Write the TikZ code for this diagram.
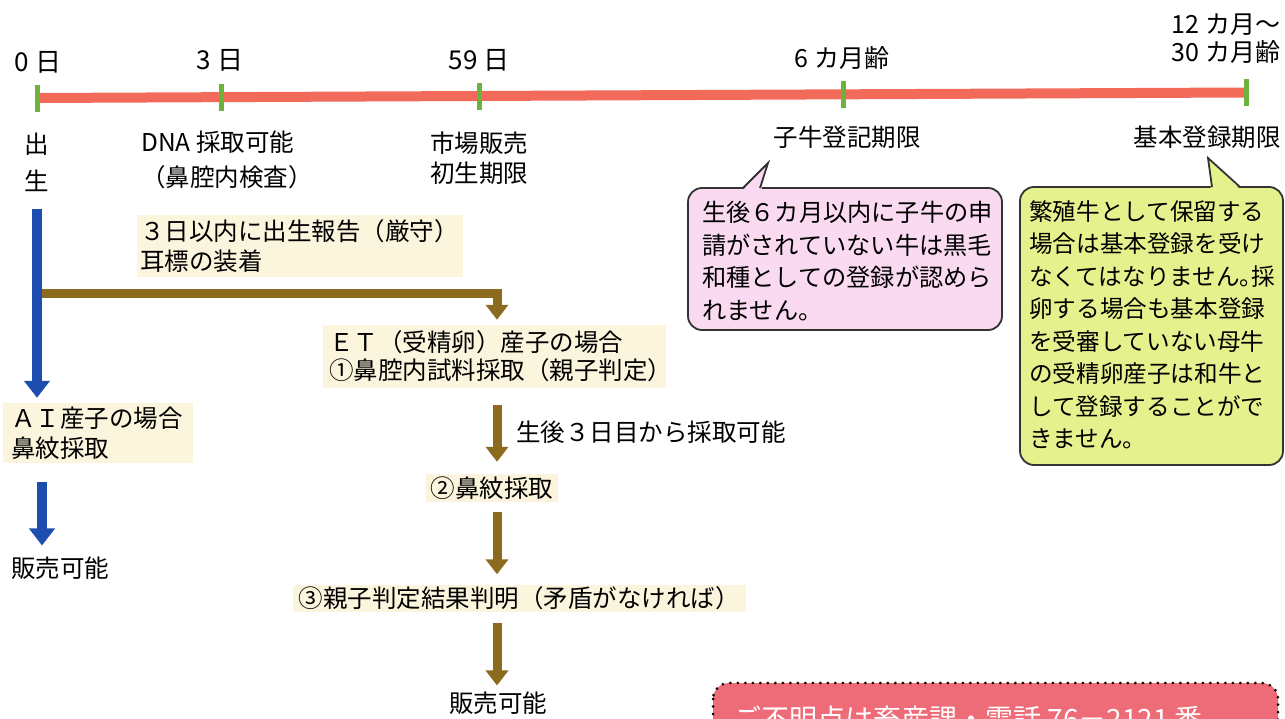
\documentclass[tikz,border=0pt]{standalone}
\usepackage{fontspec}
\setmainfont{Noto Sans CJK JP}
\usetikzlibrary{arrows.meta}
\definecolor{tlred}{HTML}{F26A5A}
\definecolor{tickgreen}{HTML}{6CB33E}
\definecolor{aiblue}{HTML}{1E4DB0}
\definecolor{etbrown}{HTML}{8C6B1E}
\definecolor{labelbg}{HTML}{FBF5DD}
\definecolor{pinkfill}{HTML}{F9DAF0}
\definecolor{greenfill}{HTML}{E4F18C}
\definecolor{infored}{HTML}{EE6B78}
\newcommand{\halfmaru}{\makebox[0.5em][l]{。}}
\begin{document}
\begin{tikzpicture}[x=1pt,y=-1pt,
  every node/.style={inner sep=0pt, font=\fontsize{24.5}{30}\selectfont},
  tl/.style={draw=tlred, line width=10pt},
  tk/.style={draw=tickgreen, line width=5pt},
  beige/.style={fill=labelbg, align=left},
  barrow/.style={draw=aiblue, line width=10pt, -{Triangle[width=25pt,length=17pt]}},
  brarrow/.style={draw=etbrown, line width=9pt, -{Triangle[width=22pt,length=15pt]}},
  callout/.style={draw=black!80, line width=1.8pt},
  ctext/.style={align=left, font=\fontsize{24.2}{32.5}\selectfont}
]
\useasboundingbox (0,0) rectangle (1285,719);

% timeline
\coordinate (k0) at (37,98);
\coordinate (k3) at (221,97.2);
\coordinate (k59) at (479,96);
\coordinate (k6m) at (843,94.3);
\coordinate (k12m) at (1246,92.5);
\draw[tl] (k0) -- (k12m);
\foreach \k in {k0,k3,k59,k6m,k12m}{
  \draw[tk] (\k) ++(0,-13) -- ++(0,27);
}

% labels above
\node[font=\fontsize{26}{30}\selectfont] (n0) at (38,62) {0 日};
\node[font=\fontsize{26}{30}\selectfont] (n3) at (220,60) {3 日};
\node[font=\fontsize{26}{30}\selectfont] (n59) at (479,60) {59 日};
\node[font=\fontsize{25}{30}\selectfont] (n6m) at (842,58) {6 カ月齢};
\node[align=center, font=\fontsize{25}{28}\selectfont] (n12m) at (1226,39) {12 カ月〜\\30 カ月齢};

% labels below
\node[align=center, font=\fontsize{24.5}{37}\selectfont] (birth) at (37,162) {出\\生};
\node[align=left, font=\fontsize{24.5}{35}\selectfont, anchor=west] (dna) at (141,160) {DNA 採取可能\\（鼻腔内検査）};
\node[align=center] (market) at (479,158) {市場販売\\初生期限};
\node (calfreg) at (847,137) {子牛登記期限};
\node (basicreg) at (1207,137) {基本登録期限};

% beige labels
\node[beige, text width=320pt, inner xsep=3pt, minimum height=62pt] (report) at (300,246) {３日以内に出生報告（厳守）\\耳標の装着};
\node[beige, text width=331pt, inner xsep=6pt, minimum height=63pt, font=\fontsize{24.5}{28}\selectfont] (et) at (494.5,356.5) {ＥＴ（受精卵）産子の場合\\①鼻腔内試料採取（親子判定）};
\node[beige, text width=174pt, inner xsep=8pt, minimum height=60pt] (ai) at (98,433) {ＡＩ産子の場合\\鼻紋採取};
\node[beige, inner xsep=5pt, minimum height=28pt] (nose) at (492,488) {②鼻紋採取};
\node[beige, inner xsep=6pt, minimum height=27pt] (result) at (519,598) {③親子判定結果判明（矛盾がなければ）};
\node[anchor=west] (note) at (516,432) {生後３日目から採取可能};
\node (sale2) at (498,703) {販売可能};
\node[anchor=west] (sale1) at (11,568) {販売可能};

% connectors
\coordinate (spine) at (497,0);
\coordinate (aispine) at (42,0);
\coordinate (jn) at (38,294);
\draw[brarrow] (jn) -| ([yshift=5pt]spine |- et.north);
\draw[barrow] ([yshift=-17pt]birth.south) -- ([yshift=5pt]birth.south |- ai.north);
\draw[barrow] ([yshift=-19pt]aispine |- ai.south) -- ([yshift=11pt]aispine |- sale1.north);
\draw[brarrow] ([yshift=-17pt]spine |- et.south) -- ([yshift=12pt]spine |- nose.north);
\draw[brarrow] ([yshift=-10pt]spine |- nose.south) -- ([yshift=10pt]spine |- result.north);
\draw[brarrow] ([yshift=-11pt]spine |- result.south) -- ([yshift=6pt]spine |- sale2.north);

% pink callout
\filldraw[callout, fill=pinkfill, rounded corners=14pt] (688,188) rectangle (1002,330);
\fill[pinkfill] (742,191) -- (768,163) -- (761,191) -- cycle;
\draw[callout, line join=miter] (743,188) -- (768,163) -- (760,188);
\node[ctext, anchor=north west] (pinktext) at (702,201) {生後６カ月以内に子牛の申\\請がされていない牛は黒毛\\和種としての登録が認めら\\れません。};

% green callout
\filldraw[callout, fill=greenfill, rounded corners=14pt] (1020,187) rectangle (1283,465);
\fill[greenfill] (1211,190) -- (1208,158) -- (1241,190) -- cycle;
\draw[callout, line join=miter] (1212,187) -- (1208,158) -- (1240,187);
\node[ctext, anchor=north west, font=\fontsize{23.6}{32.5}\selectfont] (greentext) at (1029,200) {繁殖牛として保留する\\場合は基本登録を受け\\なくてはなりません\halfmaru 採\\卵する場合も基本登録\\を受審していない母牛\\の受精卵産子は和牛と\\して登録することがで\\きません。};

% info box (cut off at the lower edge, as in the reference)
\fill[infored, rounded corners=16pt] (713,683) rectangle (1278,760);
\draw[draw=black, line width=3pt, dash pattern=on 0pt off 7.5pt, line cap=round, rounded corners=16pt] (713,683) rectangle (1278,760);
\node[text=white, font=\fontsize{28}{30}\selectfont, anchor=west] (info) at (733,719) {ご不明点は畜産課・電話 76－2121 番、};
\end{tikzpicture}
\end{document}
